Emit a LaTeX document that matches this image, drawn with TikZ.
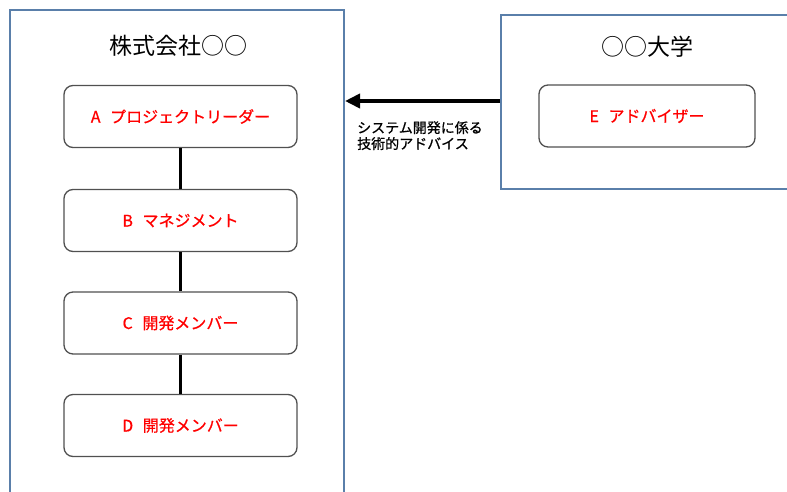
\documentclass[tikz,border=0pt]{standalone}
\usepackage{fontspec}
\setmainfont{Noto Sans CJK JP}
\newfontfamily\boldish[FakeBold=0.7]{Noto Sans CJK JP}
\usetikzlibrary{arrows.meta,calc}
\definecolor{frameblue}{HTML}{5A7FAA}
\definecolor{boxgray}{HTML}{505050}
\tikzset{
  container/.style={draw=frameblue,line width=2pt,rectangle,inner sep=0pt},
  role/.style={draw=boxgray,line width=1.3pt,rounded corners=9pt,minimum width=233pt,minimum height=62pt,inner sep=0pt,text=red,font=\boldish\fontsize{16}{18}\selectfont},
  title/.style={font=\fontsize{23}{26}\selectfont,inner sep=0pt},
  link/.style={line width=3.2pt,black},
  bigarrow/.style={line width=4pt,-{Triangle[length=15pt,width=14pt]}},
  note/.style={font=\boldish\fontsize{14}{16}\selectfont,align=left,inner sep=0pt,anchor=north west}
}
\begin{document}
\begin{tikzpicture}[x=1pt,y=-1pt]
\useasboundingbox[fill=white] (0,0) rectangle (787,491);
\clip (0,0) rectangle (787,491);
\node[container,minimum width=334pt,minimum height=500pt] (left) at (177,260) {};
\node[container,minimum width=300pt,minimum height=174pt] (right) at (651,102) {};
\node[title] (ltitle) at (178,46) {株式会社○○};
\node[title] (rtitle) at (647,47) {○○大学};
\node[role] (A) at (180.5,116.5) {A\hspace{0.6em}プロジェクトリーダー};
\node[role] (B) at (180.5,220.5) {B\hspace{0.6em}マネジメント};
\node[role] (C) at (180.5,323) {C\hspace{0.6em}開発メンバー};
\node[role] (D) at (180.5,425.5) {D\hspace{0.6em}開発メンバー};
\node[role,minimum width=216pt] (E) at (647,116) {E\hspace{0.6em}アドバイザー};
\draw[link] (A) -- (B);
\draw[link] (B) -- (C);
\draw[link] (C) -- (D);
\coordinate (arrowstart) at ($(right.west)+(0,-1)$);
\draw[bigarrow] (arrowstart) -- (arrowstart -| left.east);
\node[note] (lbl) at (357,121) {システム開発に係る\\技術的アドバイス};
\end{tikzpicture}
\end{document}
